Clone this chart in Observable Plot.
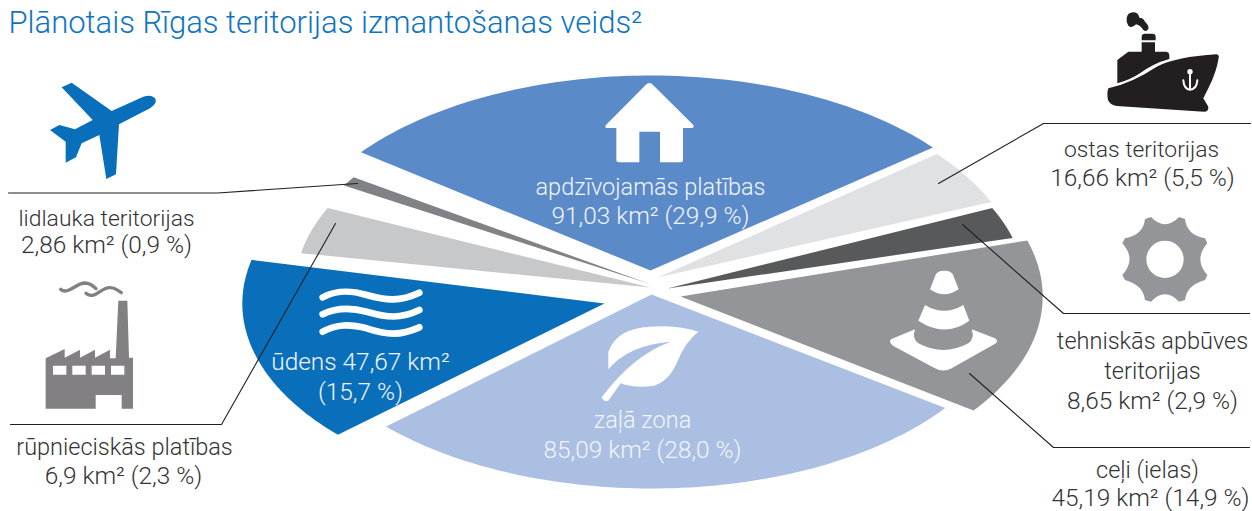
<!DOCTYPE html>
<html lang="lv">
<head>
<meta charset="utf-8">
<style>html,body{margin:0;padding:0;background:#fff}svg{display:block}</style>
<script src="https://cdn.jsdelivr.net/npm/d3@7"></script>
<script src="https://cdn.jsdelivr.net/npm/@observablehq/plot@0.6"></script>
</head>
<body>
<div id="chart"></div>
<script>
// ---- Data ----
const titleText = "Plānotais Rīgas teritorijas izmantošanas veids²";
const categories = ["apdzīvojamās platības","ostas teritorijas","tehniskās apbūves teritorijas","ceļi (ielas)","zaļā zona","ūdens","rūpnieciskās platības","lidlauka teritorijas"];
const areas = [91.03,16.66,8.65,45.19,85.09,47.67,6.9,2.86];
const shares = [29.9,5.5,2.9,14.9,28.0,15.7,2.3,0.9];
// bearing of each wedge's edges in the untilted pie, degrees clockwise from north
const wedgeFrom = [-52.7,50.5,65.2,73.2,125.8,227.4,280.4,301];
const wedgeTo = [50.9,67.1,74.7,126,227.1,283,294.7,303.9];

// ---- Layout ----
const W = 1252, H = 511;
const rx = 364, ry = 195;
const apexX = [650,657,667,680,651,604,650,648];
const apexY = [270,277,288,296,294,303,287,283];
const reach = [1,0.995,0.983,0.995,0.995,0.995,0.976,0.976];
const colors = ["#5b8ac8","#e0e1e3","#58595b","#939598","#aabfe2","#0a6fbb","#c7c8ca","#808285"];
const ink = "#333335";
const font = "Roboto, 'Liberation Sans', Arial, sans-serif";

const num = v => String(v).replace(".", ",");
const pct = v => v.toFixed(1).replace(".", ",");
const stat = i => `${num(areas[i])} km² (${pct(shares[i])} %)`;
const sizeOf = d => /\d/.test(d.t) ? 24.4 : (d.t === categories[7] || d.t === categories[1]) ? 22.9 : 23.5;

// wedge outlines: apex, then arc of the tilted pie
const wedges = categories.flatMap((name, i) => {
  const pts = [{name, x: apexX[i], y: apexY[i]}];
  const n = 80;
  for (let k = 0; k <= n; ++k) {
    const a = (wedgeFrom[i] + (wedgeTo[i] - wedgeFrom[i]) * k / n) * Math.PI / 180;
    pts.push({name, x: apexX[i] + reach[i] * rx * Math.sin(a), y: apexY[i] - reach[i] * ry * Math.cos(a)});
  }
  return pts;
});

const darkLabels = [
  {t: categories[7], x: 106, y: 225},
  {t: stat(7), x: 106, y: 252},
  {t: categories[6], x: 124, y: 454},
  {t: stat(6), x: 123, y: 483},
  {t: categories[1], x: 1141, y: 156},
  {t: stat(1), x: 1142, y: 185},
  {t: "tehniskās apbūves", x: 1152, y: 348},
  {t: "teritorijas", x: 1152, y: 378},
  {t: stat(2), x: 1152, y: 408},
  {t: categories[3], x: 1147, y: 477},
  {t: stat(3), x: 1150, y: 505}
];
const lightLabels = [
  {t: categories[0], x: 650, y: 194},
  {t: stat(0), x: 650, y: 223},
  {t: categories[4], x: 642, y: 427},
  {t: stat(4), x: 642, y: 457},
  {t: `${categories[5]} ${num(areas[5])} km²`, x: 360, y: 369},
  {t: `(${pct(shares[5])} %)`, x: 360, y: 399}
];

const leaders = [
  {id:"lid",x:8,y:192.5},{id:"lid",x:217,y:192.5},{id:"lid",x:357,y:183},
  {id:"rup",x:10,y:424},{id:"rup",x:221,y:424},{id:"rup",x:335,y:223},
  {id:"ost",x:1250,y:123},{id:"ost",x:1043,y:123},{id:"ost",x:938,y:183},
  {id:"teh",x:1249,y:313},{id:"teh",x:1063,y:313},{id:"teh",x:962,y:224},
  {id:"cel",x:1249,y:447},{id:"cel",x:1053,y:447},{id:"cel",x:969,y:373}
];

// pictograms: path data in a local 3x grid, placed by origin
const icons = [
  {o:[0,0], fill:"#0a6fbb", d:"M185,262 L215,248 L335,333 L430,290 Q458,282 467,298 Q470,312 450,325 L357,373 L348,523 L319,537 L298,405 L245,430 L228,472 L197,488 L197,425 L150,390 L178,375 L225,388 L278,360 Z"},
  {o:[0,250], fill:"#828083", rule:"evenodd", d:"M137,325 L194,297 L194,323 L240,299 L240,323 L285,299 L285,323 L330,299 L330,325 L347,325 L355,152 L382,152 L387,323 L399,323 L399,476 L365,476 L365,435 L287,435 L287,476 L137,476 Z M159,347 h40 v27 h-40 Z M217,347 h40 v27 h-40 Z M275,347 h40 v27 h-40 Z M333,347 h40 v27 h-40 Z"},
  {o:[0,250], fill:"none", stroke:"#828083", sw:10, d:"M182,118 C205,136 225,100 255,99 C270,99 280,108 288,116 M258,130 C285,152 305,108 332,113 C345,114 355,122 364,128"},
  {o:[420,60], fill:"#fff", d:"M680,72 Q688,66 696,72 L820,195 Q824,203 815,204 L789,204 L789,300 Q789,307 782,307 L720,307 L720,215 L658,215 L658,307 L596,307 Q589,307 589,300 L589,204 L562,204 Q552,203 558,195 Z"},
  {o:[420,280], fill:"#fff", d:"M835,155 Q770,135 690,140 Q590,145 565,215 L565,268 Q625,195 752,185 Q640,225 545,352 Q550,366 565,362 L602,310 Q640,325 700,318 Q745,305 770,250 Q795,185 835,155 Z"},
  {o:[310,280], fill:"none", stroke:"#fff", sw:20, d:"M38,52 C80,30 120,30 170,45 C230,62 270,65 328,38 M38,103 C80,82 120,82 170,95 C230,112 270,118 328,90 M38,155 C80,132 120,132 170,145 C230,165 270,168 328,142"},
  {o:[880,260], fill:"#fff", d:"M150,88 L168,42 Q175,32 192,32 Q212,32 218,42 L236,88 Q192,118 150,88 Z M135,135 Q192,170 250,135 L268,182 Q195,235 115,182 Z M30,245 Q30,238 40,235 L105,208 Q95,235 115,250 Q190,290 265,250 Q285,235 275,208 L345,235 Q355,240 348,250 L215,325 Q190,338 165,325 L40,258 Q32,252 30,245 Z"},
  {o:[1105,205], fill:"#939598", rule:"evenodd", d:"M120,42 L138,36 Q180,80 222,36 L240,42 Q245,90 300,100 L307,115 Q265,163 307,210 L300,225 Q245,240 240,285 L222,290 Q180,246 138,290 L120,285 Q115,240 60,225 L52,210 Q95,163 52,115 L60,100 Q115,90 120,42 Z M236,163 A56,56 0 1 0 124,163 A56,56 0 1 0 236,163 Z"},
  {o:[1100,5], fill:"#231f20", d:"M25,250 Q100,232 170,185 Q230,155 350,148 Q358,150 356,158 Q350,200 325,250 L310,280 L325,305 Q326,320 312,320 L50,303 Q30,300 24,285 Q20,265 25,250 Z M52,165 L85,140 L125,140 L125,112 L165,112 L165,140 L200,140 Q208,142 208,150 L208,162 Q160,175 120,205 Q90,225 52,235 Z M125,106 L125,95 Q125,86 135,86 L157,86 Q167,86 167,95 L167,106 Z M80,40 Q82,22 100,22 Q115,22 118,38 Q130,38 135,50 Q148,62 145,72 Q138,82 130,75 Q122,62 108,58 Q95,72 85,62 Q78,52 80,40 Z"},
  {o:[1100,5], fill:"none", stroke:"#fff", sw:6, d:"M270,205 L270,253 M250,226 Q252,252 270,254 Q290,252 292,226"},
  {o:[1100,5], fill:"#fff", d:"M278,200 A8,8 0 1 0 262,200 A8,8 0 1 0 278,200 Z"}
];

const pictograms = () => {
  const g = d3.create("svg:g");
  g.selectAll("path").data(icons).join("path")
    .attr("transform", d => `translate(${d.o[0]},${d.o[1]}) scale(${1/3})`)
    .attr("d", d => d.d)
    .attr("fill", d => d.fill)
    .attr("fill-rule", d => d.rule || "nonzero")
    .attr("stroke", d => d.stroke || "none")
    .attr("stroke-width", d => d.sw || 0)
    .attr("stroke-linecap", "round");
  return g.node();
};

const chart = Plot.plot({
  width: W, height: H, margin: 0,
  x: {domain: [0, W], range: [0, W], axis: null},
  y: {domain: [0, H], range: [0, H], axis: null},
  color: {domain: categories, range: colors},
  style: {background: "#fff", fontFamily: font},
  marks: [
    Plot.line(wedges, {x: "x", y: "y", z: "name", fill: "name", stroke: null}),
    pictograms,
    Plot.line(leaders, {x: "x", y: "y", z: "id", stroke: "#231f20", strokeWidth: 1.1, strokeLinejoin: "miter"}),
    Plot.text([titleText], {x: () => 8, y: () => 32, text: d => d, textAnchor: "start", lineAnchor: "bottom", fontSize: 31, fontWeight: 300, fill: "#0f74bf"}),
    Plot.text(darkLabels, {x: "x", y: "y", text: "t", textAnchor: "middle", lineAnchor: "bottom", fontSize: sizeOf, fontWeight: 300, fill: ink}),
    Plot.text(lightLabels, {x: "x", y: "y", text: "t", textAnchor: "middle", lineAnchor: "bottom", fontSize: sizeOf, fontWeight: 300, fill: "#f2f5fb"})
  ]
});
document.getElementById("chart").append(chart);
</script>
</body>
</html>
